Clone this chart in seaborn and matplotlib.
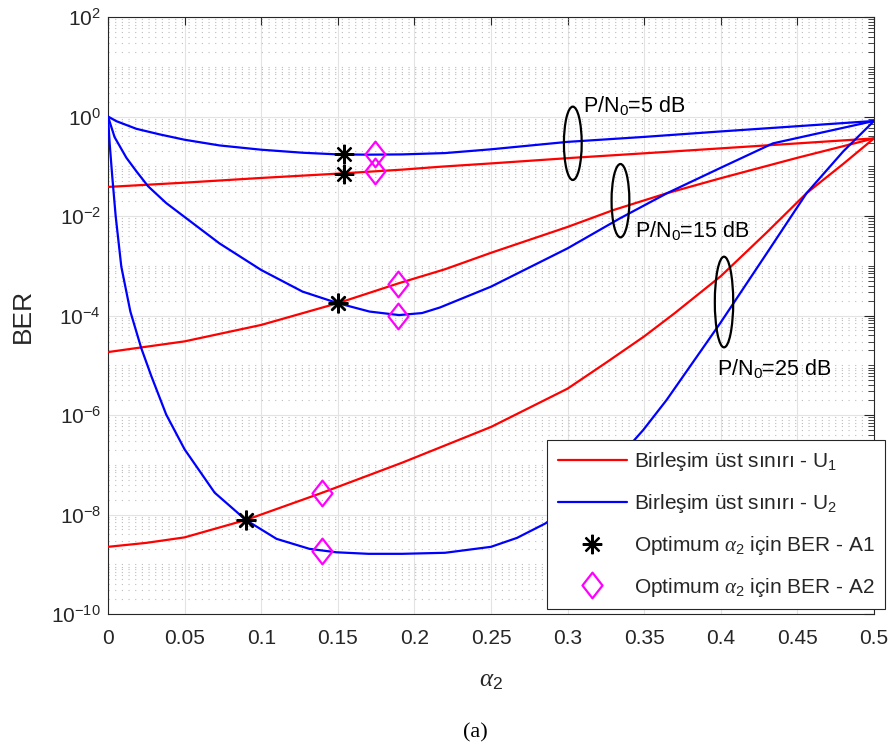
import matplotlib
matplotlib.use("Agg")
import matplotlib.pyplot as plt
import pandas as pd
import seaborn as sns
from matplotlib.lines import Line2D
from matplotlib.patches import Ellipse
from matplotlib.path import Path
from matplotlib.ticker import LogLocator, FixedLocator, FixedFormatter, NullFormatter

# ---- union-bound curves, P/N0 = 5, 15, 25 dB ----
u1_5_alpha = [0, 0.05, 0.1, 0.15, 0.192, 0.2167, 0.25, 0.3037, 0.35, 0.4, 0.45, 0.5]
u1_5_ber = [0.0384, 0.0468, 0.0582, 0.0710, 0.0855, 0.0977, 0.114, 0.148, 0.182, 0.229,
            0.288, 0.363]

u2_5_alpha = [0, 0.0054, 0.0185, 0.0337, 0.05, 0.0728, 0.1, 0.127, 0.15, 0.17, 0.192,
              0.22, 0.25, 0.3, 0.35, 0.4, 0.45, 0.5]
u2_5_ber = [1.0, 0.807, 0.566, 0.437, 0.341, 0.262, 0.215, 0.187, 0.173, 0.171, 0.173,
            0.184, 0.219, 0.309, 0.389, 0.501, 0.638, 0.813]

u1_15_alpha = [0, 0.05, 0.1, 0.15, 0.19, 0.22, 0.25, 0.3, 0.33, 0.365, 0.4, 0.45, 0.5]
u1_15_ber = [1.84e-5, 3.02e-5, 6.46e-5, 1.77e-4, 4.47e-4, 8.51e-4, 1.82e-3, 6.03e-3,
             1.32e-2, 2.88e-2, 5.75e-2, 0.148, 0.363]

u2_15_alpha = [0, 0.0043, 0.012, 0.0185, 0.0261, 0.038, 0.05, 0.0728, 0.1, 0.127, 0.15,
               0.1707, 0.19, 0.205, 0.2167, 0.25, 0.3, 0.334, 0.365, 0.4, 0.434, 0.5]
u2_15_ber = [1.0, 0.385, 0.148, 0.0794, 0.0398, 0.0182, 9.55e-3, 2.81e-3, 8.22e-4,
             3.02e-4, 1.77e-4, 1.20e-4, 1.02e-4, 1.12e-4, 1.45e-4, 3.80e-4, 2.24e-3,
             8.91e-3, 2.88e-2, 9.33e-2, 0.288, 0.813]

u1_25_alpha = [0, 0.025, 0.05, 0.09, 0.14, 0.192, 0.25, 0.3, 0.325, 0.35, 0.37, 0.4,
               0.43, 0.456, 0.48, 0.5]
u1_25_ber = [2.24e-9, 2.69e-9, 3.47e-9, 7.76e-9, 2.75e-8, 1.10e-7, 5.75e-7, 3.39e-6,
             1.12e-5, 3.80e-5, 1.12e-4, 6.17e-4, 4.68e-3, 2.88e-2, 0.112, 0.363]

u2_25_alpha = [0, 0.0011, 0.0028, 0.005, 0.0087, 0.0146, 0.0217, 0.0283, 0.038, 0.05,
               0.0696, 0.09, 0.11, 0.1315, 0.149, 0.17, 0.192, 0.22, 0.25, 0.267, 0.2855,
               0.3, 0.32, 0.335, 0.3494, 0.3646, 0.3995, 0.43, 0.456, 0.48, 0.5]
u2_25_ber = [1.0, 0.283, 0.061, 0.01, 9.55e-4, 1.20e-4, 2.21e-5, 6.03e-6, 1.02e-6,
             2.04e-7, 2.75e-8, 7.76e-9, 3.24e-9, 2.04e-9, 1.74e-9, 1.62e-9, 1.62e-9,
             1.70e-9, 2.24e-9, 3.39e-9, 6.61e-9, 1.41e-8, 5.01e-8, 1.58e-7, 5.01e-7,
             2.0e-6, 6.92e-5, 1.78e-3, 2.88e-2, 0.2, 0.813]

# ---- optimum alpha_2 points ----
a1_alpha = [0.1543, 0.1543, 0.15, 0.15, 0.09, 0.09]
a1_ber = [0.173, 0.071, 1.77e-4, 1.77e-4, 7.76e-9, 7.76e-9]
a2_alpha = [0.1746, 0.1746, 0.189, 0.189, 0.14, 0.14]
a2_ber = [0.173, 0.079, 4.31e-4, 1.0e-4, 2.75e-8, 1.86e-9]

x_ticks = [0, 0.05, 0.1, 0.15, 0.2, 0.25, 0.3, 0.35, 0.4, 0.45, 0.5]
x_tick_labels = ["0", "0.05", "0.1", "0.15", "0.2", "0.25", "0.3", "0.35", "0.4", "0.45", "0.5"]

snr_labels = ["P/N$_0$=5 dB", "P/N$_0$=15 dB", "P/N$_0$=25 dB"]
lbl_u1 = "Birleşim üst sınırı - U$_1$"
lbl_u2 = "Birleşim üst sınırı - U$_2$"
lbl_a1 = "Optimum $\\alpha_2$ için BER - A1"
lbl_a2 = "Optimum $\\alpha_2$ için BER - A2"

sns.set_theme(style="white")
plt.rcParams["font.family"] = ["Liberation Sans", "DejaVu Sans"]
plt.rcParams["mathtext.fontset"] = "custom"
plt.rcParams["mathtext.rm"] = "Liberation Sans"
plt.rcParams["mathtext.sf"] = "Liberation Sans"
plt.rcParams["mathtext.it"] = "Liberation Serif:italic"
plt.rcParams["mathtext.bf"] = "Liberation Sans:bold"

frames = []
for name, a, b, lab in [("U1_5", u1_5_alpha, u1_5_ber, lbl_u1),
                        ("U1_15", u1_15_alpha, u1_15_ber, lbl_u1),
                        ("U1_25", u1_25_alpha, u1_25_ber, lbl_u1),
                        ("U2_5", u2_5_alpha, u2_5_ber, lbl_u2),
                        ("U2_15", u2_15_alpha, u2_15_ber, lbl_u2),
                        ("U2_25", u2_25_alpha, u2_25_ber, lbl_u2)]:
    frames.append(pd.DataFrame({"alpha": a, "BER": b, "bound": lab, "curve": name}))
df = pd.concat(frames, ignore_index=True)

fig = plt.figure(figsize=(8.91, 7.55), dpi=100)
ax = fig.add_axes([108 / 891, 1 - 614 / 755, (874 - 108) / 891, (614 - 17) / 755])

sns.lineplot(data=df, x="alpha", y="BER", hue="bound", units="curve", estimator=None,
             sort=False, palette={lbl_u1: "#ff0000", lbl_u2: "#0000ff"}, linewidth=1.6,
             legend=False, ax=ax, zorder=3)

diamond = Path([(0, 1), (0.78, 0), (0, -1), (-0.78, 0), (0, 1)],
               [Path.MOVETO, Path.LINETO, Path.LINETO, Path.LINETO, Path.CLOSEPOLY])
ax.plot(a1_alpha, a1_ber, linestyle="none", marker=(8, 2, 0), markersize=14,
        markeredgewidth=1.6, color="black", zorder=5)
ax.plot(a2_alpha, a2_ber, linestyle="none", marker=diamond, markersize=18.5,
        markeredgewidth=1.6, markerfacecolor="none", markeredgecolor="#ff00ff", zorder=5)

ax.set_yscale("log")
ax.set_xlim(0, 0.5)
ax.set_ylim(1e-10, 1e2)

ax.xaxis.set_major_locator(FixedLocator(x_ticks))
ax.xaxis.set_major_formatter(FixedFormatter(x_tick_labels))
ax.yaxis.set_major_locator(LogLocator(base=100, numticks=20))
ax.yaxis.set_minor_locator(LogLocator(base=10, subs=range(1, 10), numticks=30))
ax.yaxis.set_minor_formatter(NullFormatter())

spine_col = "#262626"
for s in ax.spines.values():
    s.set_color(spine_col)
    s.set_linewidth(0.8)
    s.set_visible(True)
ax.tick_params(which="both", direction="in", top=True, right=True, colors=spine_col,
               labelcolor="#262626", labelsize=15)
ax.tick_params(axis="x", which="major", length=6, width=0.8, pad=11)
ax.tick_params(axis="y", which="major", length=7, width=0.8, pad=5)
ax.tick_params(axis="y", which="minor", length=4, width=0.6)

ax.grid(True, which="major", color="#e3e3e3", linewidth=0.8, linestyle="-", zorder=0)
ax.grid(True, which="minor", axis="y", color="#bdbdbd", linewidth=0.8,
        linestyle=(0, (1, 5)), zorder=0)
ax.set_axisbelow(True)

ax.set_xlabel("$\\alpha_2$", fontsize=18, labelpad=14)
ax.set_ylabel("BER", fontsize=19, labelpad=12)

# ellipses grouping the curve pairs (axes-fraction coordinates on the log scale)
for cx, cy, w, h in [(0.3034, -0.539, 0.0058, 0.737),
                     (0.3345, -1.692, 0.0058, 0.737),
                     (0.4021, -3.729, 0.0060, 0.911)]:
    ax.add_patch(Ellipse((cx / 0.5, (cy + 10) / 12), 2 * w / 0.5, 2 * h / 12,
                         transform=ax.transAxes, fill=False, edgecolor="black",
                         linewidth=1.6, zorder=6))

for (tx, ty), txt in zip([(0.310, 1.25), (0.344, 3.84e-3), (0.3973, 6.37e-6)], snr_labels):
    ax.text(tx, ty, txt, fontsize=15.5, ha="left", va="baseline", color="black", zorder=7)

handles = [Line2D([], [], color="#ff0000", linewidth=1.6),
           Line2D([], [], color="#0000ff", linewidth=1.6),
           Line2D([], [], linestyle="none", marker=(8, 2, 0), markersize=14,
                  markeredgewidth=1.6, color="black"),
           Line2D([], [], linestyle="none", marker=diamond, markersize=18.5,
                  markeredgewidth=1.6, markerfacecolor="none", markeredgecolor="#ff00ff")]
leg = ax.legend(handles, [lbl_u1, lbl_u2, lbl_a1, lbl_a2], loc="lower right",
                bbox_to_anchor=(885 / 891, 1 - 609 / 755), bbox_transform=fig.transFigure,
                fontsize=15, frameon=True, fancybox=False, framealpha=1, borderaxespad=0,
                borderpad=0.5, handlelength=3.35, handletextpad=0.3, labelspacing=0.9)
leg.get_frame().set_edgecolor("#262626")
leg.get_frame().set_linewidth(0.8)
leg.set_zorder(10)

fig.text(475 / 891, 1 - 733 / 755, "(a)", fontsize=16, ha="center", va="center",
         family="Liberation Serif", color="black")

fig.savefig("out.png", dpi=100)
